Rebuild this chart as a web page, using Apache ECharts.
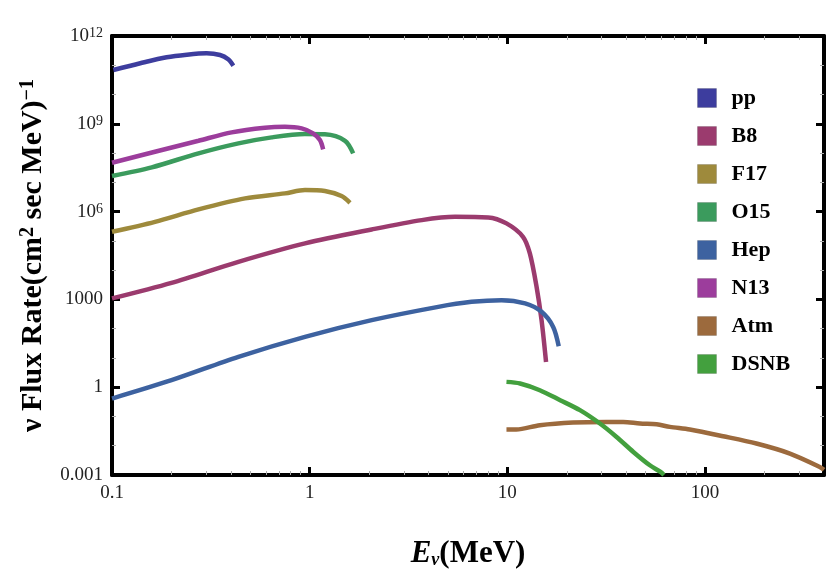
<!DOCTYPE html>
<html>
<head>
<meta charset="utf-8">
<script src="https://cdn.jsdelivr.net/npm/echarts@6/dist/echarts.min.js"></script>
<style>
  html, body { margin: 0; padding: 0; background: #fff; }
  #main { width: 831px; height: 571px; }
</style>
</head>
<body>
<div id="main"></div>
<script>
// series names (legend order)
const names = ["pp", "B8", "F17", "O15", "Hep", "N13", "Atm", "DSNB"];

// energies (MeV) and flux values
const ppE = [0.1016, 0.139, 0.189, 0.239, 0.301, 0.352, 0.387, 0.411];
const ppFlux = [6.9e10, 1.17e11, 1.87e11, 2.3e11, 2.57e11, 2.24e11, 1.6e11, 9.7e10];

const b8E = [0.1, 0.2, 0.436, 0.947, 2.06, 3.69, 5.44, 8.0, 9.9, 12.0, 13.0, 14.06, 14.9, 15.7];
const b8Flux = [1080, 3680, 1.92e4, 8.18e4, 2.46e5, 5.12e5, 6.64e5, 6.34e5, 3.95e5, 1.38e5, 3.72e4, 2680, 195, 7.3];

const f17E = [0.1, 0.165, 0.274, 0.471, 0.75, 0.947, 1.194, 1.45, 1.6];
const f17Flux = [2.04e5, 4.48e5, 1.19e6, 2.83e6, 4.19e6, 5.43e6, 5.02e6, 3.39e6, 2.0e6];

const o15E = [0.1, 0.159, 0.274, 0.436, 0.643, 0.947, 1.194, 1.51, 1.66];
const o15Flux = [1.64e7, 3.24e7, 9.8e7, 2.15e8, 3.44e8, 4.47e8, 4.36e8, 2.63e8, 9.8e7];

const hepE = [0.1, 0.2, 0.436, 0.947, 2.06, 4.47, 6.59, 9.35, 12.3, 14.9, 17.06, 18.2];
const hepFlux = [0.41, 1.73, 10.9, 52.5, 195, 556, 824, 942, 728, 376, 115, 25];

const n13E = [0.1, 0.165, 0.274, 0.403, 0.594, 0.75, 0.911, 1.04, 1.127, 1.17];
const n13Flux = [4.66e7, 1.11e8, 2.64e8, 5.1e8, 7.33e8, 7.9e8, 6.98e8, 4.72e8, 2.78e8, 1.34e8];

const atmE = [9.9, 11.1, 14.6, 21.5, 31.8, 38.6, 46.9, 56.9, 66.4, 83.8, 123.6, 182, 269, 381, 400];
const atmFlux = [0.0358, 0.0358, 0.0502, 0.0621, 0.0651, 0.0651, 0.0574, 0.0543, 0.044, 0.0358, 0.0211, 0.0119, 0.0054, 0.00188, 0.0015];

const dsnbE = [9.9, 11.6, 14.6, 18.5, 23.3, 29.4, 35.7, 43.4, 52.6, 59.6, 62];
const dsnbFlux = [1.52, 1.34, 0.789, 0.36, 0.164, 0.0574, 0.020, 0.00614, 0.00215, 0.00127, 0.001];

const colors = ["#3d3d9e", "#9b3b6e", "#9e8a3c", "#3b9b5d", "#3d62a0", "#9c3d9c", "#9c6a3d", "#43a03e"];

// tick labels
const xTicks = [0.1, 1, 10, 100];
const xTickLabels = ["0.1", "1", "10", "100"];
const yTickExps = [-3, 0, 3, 6, 9, 12];
const yTickLabels = ["0.001", "1", "1000", "{b|10}{s|6}", "{b|10}{s|9}", "{b|10}{s|12}"];

// minor ticks
const xMinor = [0.2, 0.3, 0.4, 0.5, 0.6, 0.7, 0.8, 0.9, 2, 3, 4, 5, 6, 7, 8, 9,
  20, 30, 40, 50, 60, 70, 80, 90, 200, 300];
const yMinor = [0.01, 0.1, 10, 100, 1e4, 1e5, 1e7, 1e8, 1e10, 1e11];

const seriesData = [
  [ppE, ppFlux], [b8E, b8Flux], [f17E, f17Flux], [o15E, o15Flux],
  [hepE, hepFlux], [n13E, n13Flux], [atmE, atmFlux], [dsnbE, dsnbFlux]
];

const serif = "'Liberation Serif', 'DejaVu Serif', serif";

function xLabel(v) {
  for (let i = 0; i < xTicks.length; i++) {
    if (Math.abs(Math.log10(v) - Math.log10(xTicks[i])) < 1e-6) return xTickLabels[i];
  }
  return "";
}
function yLabel(v) {
  const e = Math.round(Math.log10(v));
  const i = yTickExps.indexOf(e);
  return i >= 0 ? yTickLabels[i] : "";
}

const frame = { lineStyle: { color: "#000", width: 4 } };
const tick = { show: true, inside: true, length: 8, lineStyle: { color: "#000", width: 3 } };
const minorTick = function (vals) {
  return { show: true, inside: true, length: 4, customValues: vals, lineStyle: { color: "#aaa", width: 1 } };
};
const xRange = { type: "log", logBase: 10, min: 0.1, max: 400, interval: 1, splitLine: { show: false } };
const yRange = { type: "log", logBase: 10, min: 0.001, max: 1e12, interval: 3, splitLine: { show: false } };

const chartDom = document.getElementById("main");
const myChart = echarts.init(chartDom);

const option = {
  animation: false,
  backgroundColor: "#fff",
  grid: { left: 112, right: 7, top: 36, bottom: 96, outerBoundsMode: "none", containLabel: false },
  legend: {
    orient: "vertical",
    left: 697,
    top: 87,
    padding: 0,
    itemWidth: 19,
    itemHeight: 19,
    itemGap: 16,
    icon: "rect",
    data: names,
    itemStyle: { borderColor: "rgba(0,0,0,0.15)", borderWidth: 1 },
    textStyle: { fontFamily: serif, fontWeight: "bold", fontSize: 22, lineHeight: 19, color: "#000", padding: [0, 0, 0, 10] }
  },
  xAxis: [
    Object.assign({}, xRange, {
      axisLine: frame, axisTick: tick,
      axisLabel: { formatter: xLabel, margin: 9, fontFamily: serif, fontSize: 19, color: "#222", showMaxLabel: false },
      name: "{i|E}{sub|ν}{b|(MeV)}",
      nameLocation: "middle",
      nameGap: 63,
      nameTextStyle: {
        rich: {
          i: { fontFamily: serif, fontSize: 31, fontWeight: "bold", fontStyle: "italic", color: "#000" },
          sub: { fontFamily: serif, fontSize: 18, fontWeight: "bold", fontStyle: "italic", color: "#000", verticalAlign: "bottom", lineHeight: 28 },
          b: { fontFamily: serif, fontSize: 31, fontWeight: "bold", color: "#000" }
        }
      }
    }),
    Object.assign({}, xRange, {
      position: "top", axisLine: frame, axisTick: tick, axisLabel: { show: false }
    }),
    Object.assign({}, xRange, {
      position: "bottom", axisLine: { show: false }, axisTick: minorTick(xMinor), axisLabel: { show: false }
    }),
    Object.assign({}, xRange, {
      position: "top", axisLine: { show: false }, axisTick: minorTick(xMinor), axisLabel: { show: false }
    })
  ],
  yAxis: [
    Object.assign({}, yRange, {
      axisLine: frame, axisTick: tick,
      axisLabel: {
        formatter: yLabel, margin: 9, fontFamily: serif, fontSize: 19, color: "#222",
        rich: {
          b: { fontFamily: serif, fontSize: 19, color: "#222" },
          s: { fontFamily: serif, fontSize: 14, color: "#222", verticalAlign: "top", lineHeight: 16 }
        }
      },
      name: "{b|ν Flux Rate(cm}{s|2}{b| sec MeV)}{s|−1}",
      nameLocation: "middle",
      nameGap: 64,
      nameTextStyle: {
        rich: {
          b: { fontFamily: serif, fontSize: 30, fontWeight: "bold", color: "#000" },
          s: { fontFamily: serif, fontSize: 20, fontWeight: "bold", color: "#000", verticalAlign: "top", lineHeight: 20 }
        }
      }
    }),
    Object.assign({}, yRange, {
      position: "right", axisLine: frame, axisTick: tick, axisLabel: { show: false }
    }),
    Object.assign({}, yRange, {
      position: "left", axisLine: { show: false }, axisTick: minorTick(yMinor), axisLabel: { show: false }
    }),
    Object.assign({}, yRange, {
      position: "right", axisLine: { show: false }, axisTick: minorTick(yMinor), axisLabel: { show: false }
    })
  ],
  series: names.map(function (n, k) {
    const e = seriesData[k][0], f = seriesData[k][1];
    return {
      name: n,
      type: "line",
      smooth: 0.3,
      showSymbol: false,
      clip: true,
      color: colors[k],
      lineStyle: { width: 4.5, color: colors[k] },
      data: e.map(function (x, i) { return [x, f[i]]; })
    };
  })
};

myChart.setOption(option);
</script>
</body>
</html>
